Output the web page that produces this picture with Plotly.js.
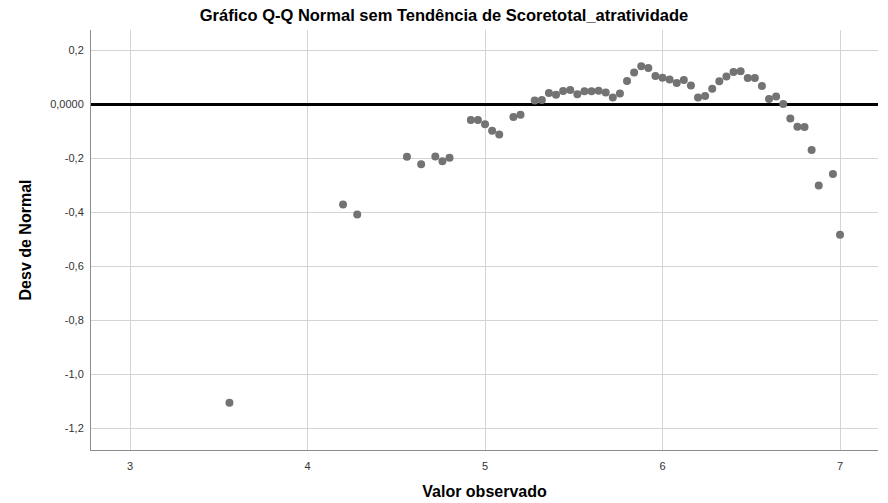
<!DOCTYPE html>
<html>
<head>
<meta charset="utf-8">
<script src="https://cdn.plot.ly/plotly-3.0.1.min.js"></script>
<style>html,body{margin:0;padding:0;background:#fff;}#chart{width:888px;height:503px;}</style>
</head>
<body>
<div id="chart"></div>
<script>
const observed = [3.56,4.20,4.28,4.56,4.64,4.72,4.76,4.80,4.92,4.96,5.00,5.04,5.08,5.16,5.20,
  5.28,5.32,5.36,5.40,5.44,5.48,5.52,5.56,5.60,5.64,5.68,5.72,5.76,5.80,5.84,5.88,5.92,5.96,
  6.00,6.04,6.08,6.12,6.16,6.20,6.24,6.28,6.32,6.36,6.40,6.44,6.48,6.52,6.56,6.60,6.64,6.68,
  6.72,6.76,6.80,6.84,6.88,6.96,7.00];
const deviation = [-1.105,-0.372,-0.409,-0.195,-0.223,-0.194,-0.212,-0.199,-0.059,-0.059,-0.075,-0.099,-0.113,-0.048,-0.040,
  0.013,0.015,0.041,0.034,0.048,0.052,0.036,0.047,0.047,0.049,0.043,0.024,0.039,0.085,0.117,0.140,0.133,0.104,
  0.097,0.091,0.078,0.089,0.069,0.024,0.030,0.057,0.084,0.102,0.119,0.121,0.096,0.096,0.067,0.019,0.028,0.000,
  -0.053,-0.084,-0.085,-0.170,-0.301,-0.259,-0.484];
const xTickVals = [3,4,5,6,7];
const xTickText = ["3","4","5","6","7"];
const yTickVals = [0.2,0,-0.2,-0.4,-0.6,-0.8,-1.0,-1.2];
const yTickText = ["0,2","0,0000","-0,2","-0,4","-0,6","-0,8","-1,0","-1,2"];

const trace = {
  x: observed, y: deviation, type: 'scatter', mode: 'markers',
  marker: {color: '#737373', size: 8, line: {width: 0}},
  hoverinfo: 'x+y', showlegend: false
};
const layout = {
  width: 888, height: 503,
  margin: {l: 91, r: 10, t: 30, b: 53},
  paper_bgcolor: '#fff', plot_bgcolor: '#fff',
  font: {family: 'Liberation Sans, Arial, sans-serif', color: '#333', size: 11},
  title: {text: '<b>Gráfico Q-Q Normal sem Tendência de Scoretotal_atratividade</b>',
    font: {size: 16.5, color: '#000', family: 'Liberation Sans, Arial, sans-serif'},
    x: 0.5, xanchor: 'center', xref: 'container', y: 0.97, yanchor: 'middle'},
  xaxis: {
    range: [2.78, 7.214], tickvals: xTickVals, ticktext: xTickText,
    showgrid: true, gridcolor: '#d4d4d4', gridwidth: 1,
    showline: true, linecolor: '#8c8c8c', linewidth: 1, mirror: false,
    zeroline: false, ticks: '', ticklen: 0, ticklabelstandoff: 6,
    tickfont: {size: 11, color: '#333'},
    title: {text: '<b>Valor observado</b>', font: {size: 16, color: '#000'}, standoff: 14}
  },
  yaxis: {
    range: [-1.28, 0.274], tickvals: yTickVals, ticktext: yTickText,
    showgrid: true, gridcolor: '#d4d4d4', gridwidth: 1,
    showline: true, linecolor: '#8c8c8c', linewidth: 1,
    zeroline: true, zerolinecolor: '#000', zerolinewidth: 3,
    ticks: '', ticklabelstandoff: 4, tickfont: {size: 11, color: '#333'},
    title: {text: '<b>Desv de Normal</b>', font: {size: 16, color: '#000'}, standoff: 14}
  }
};
Plotly.newPlot('chart', [trace], layout, {displayModeBar: false, staticPlot: true});
</script>
</body>
</html>
